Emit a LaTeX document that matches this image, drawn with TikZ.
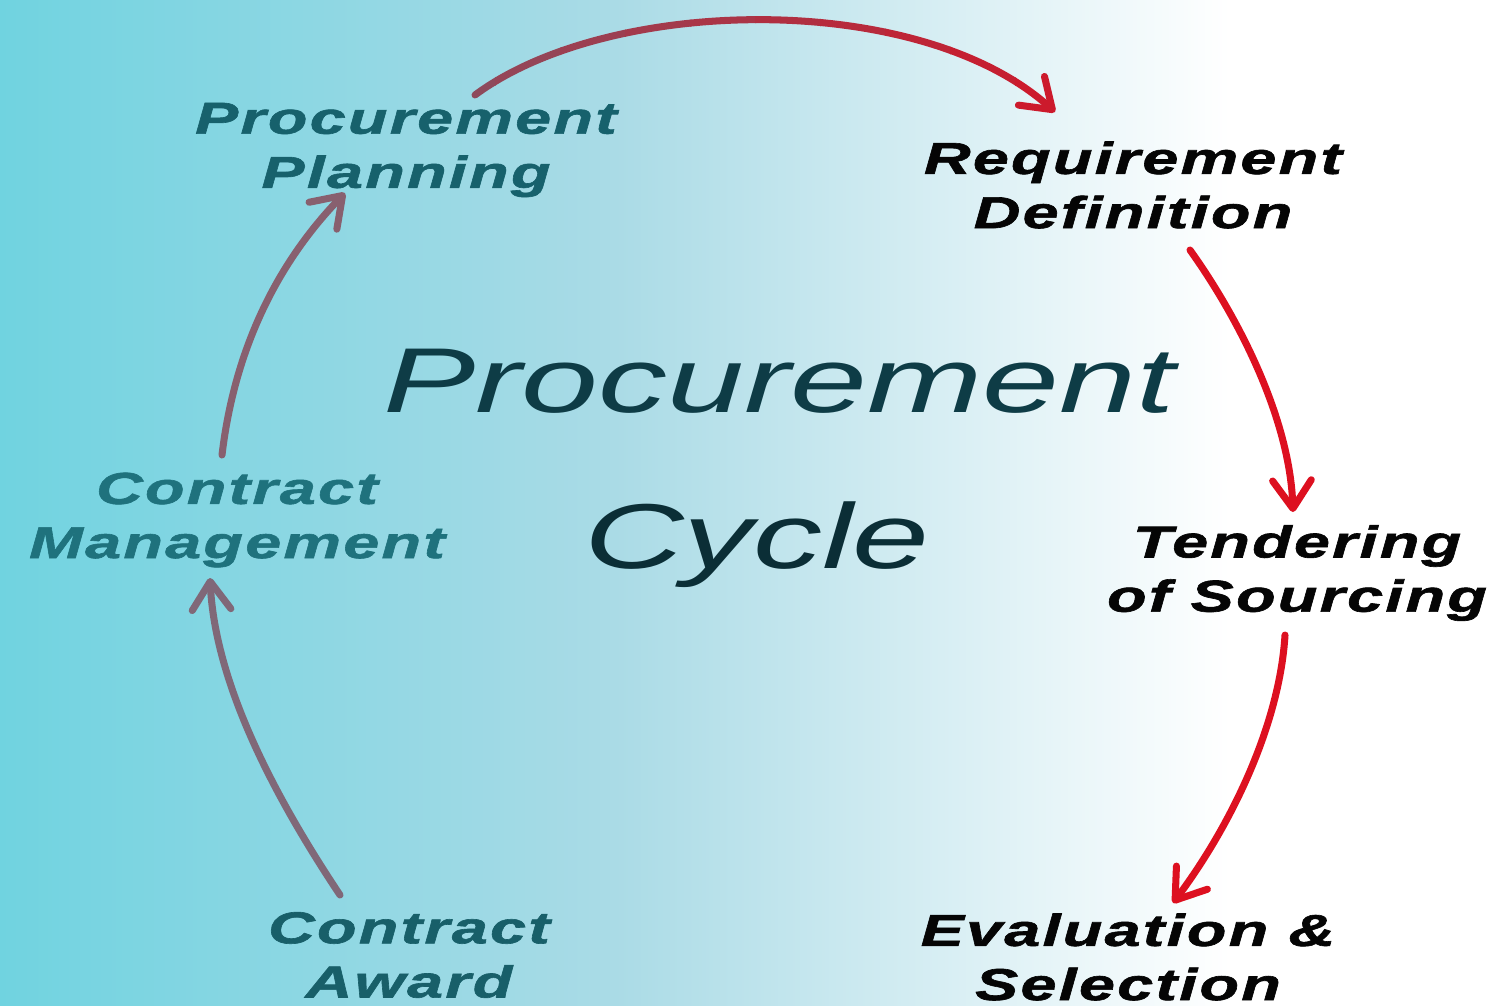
\documentclass[tikz,border=0pt]{standalone}
\usepackage{fontspec}
\usetikzlibrary{arrows.meta}
\newfontfamily\labfont[FakeStretch=1.45,LetterSpace=5,FakeBold=1.4]{Liberation Sans}
\newfontfamily\cenfont[FakeStretch=1.5]{Liberation Sans}
\definecolor{bgA}{HTML}{70D3E0}
\definecolor{bgM}{HTML}{AADBE6}
\definecolor{ppC}{HTML}{17616C}
\definecolor{cmC}{HTML}{1F727D}
\definecolor{caC}{HTML}{185F69}
\definecolor{cpC}{HTML}{0E3C46}
\definecolor{ccC}{HTML}{0B2E36}
\definecolor{labBlack}{HTML}{050505}
\definecolor{arrRed}{HTML}{DD1020}
\definecolor{arrTopR}{HTML}{CC1A2C}
\definecolor{arrTopL}{HTML}{8E4A5C}
\definecolor{arrMauve}{HTML}{806878}
\definecolor{arrMauveB}{HTML}{88606F}
\begin{document}
\begin{tikzpicture}[x=0.01cm,y=-0.01cm,
  lab/.style={font=\labfont\bfseries\itshape\fontsize{12.7}{15.4}\selectfont, align=center, inner sep=0pt},
  cen/.style={font=\cenfont\itshape\fontsize{26.2}{30}\selectfont, inner sep=0pt, anchor=base},
  arr/.style={line width=2pt, line cap=round, -{Straight Barb[length=8pt,width=11pt,round]}}]
\useasboundingbox (0,0) rectangle (1499,1005);
\shade[left color=bgA, right color=white, middle color=bgM] (0,0) rectangle (1230,1005);
\fill[white] (1229,0) rectangle (1499,1005);

% labels
\node[lab, text=ppC] (pp) at (406,150) {Procurement\\Planning};
\node[lab, text=labBlack] (rd) at (1133,185) {Requirement\\Definition};
\node[lab, text=labBlack] (ts) at (1297,573) {Tendering\\of Sourcing};
\node[lab, text=labBlack] (es) at (1128,957) {Evaluation \&\\Selection};
\node[lab, text=caC] (ca) at (409,955) {Contract\\Award};
\node[lab, text=cmC] (cm) at (237,520) {Contract\\Management};
\node[cen, text=cpC] (c1) at (779,412) {Procurement};
\node[cen, text=ccC] (c2) at (757,568) {Cycle};

% arrow end points
\coordinate (a1s) at (475,95);   \coordinate (a1e) at (1055,112);
\coordinate (a2s) at (1190,250); \coordinate (a2e) at (1293,512);
\coordinate (a3s) at (1285,635); \coordinate (a3e) at (1173,903);
\coordinate (a4s) at (340,895);  \coordinate (a4e) at (210,578);
\coordinate (a5s) at (222,455);  \coordinate (a5e) at (345,193);

% top arrow with stepwise colour blend
\foreach \i in {0,...,9}{
  \pgfmathsetmacro{\p}{\i*100/9}
  \pgfmathsetmacro{\xa}{430+\i*65}
  \pgfmathsetmacro{\xb}{430+(\i+1)*65+1}
  \begin{scope}
    \clip (\xa,-60) rectangle (\xb,200);
    \draw[arr, draw=arrTopR!\p!arrTopL] (a1s) .. controls (610,-5) and (920,-10) .. (a1e);
  \end{scope}
}
\draw[arr, draw=arrRed] (a2s) .. controls (1240,320) and (1290,420) .. (a2e);
\draw[arr, draw=arrRed] (a3s) .. controls (1280,720) and (1235,820) .. (a3e);
\draw[arr, draw=arrMauve] (a4s) .. controls (270,790) and (215,680) .. (a4e);
\draw[arr, draw=arrMauveB] (a5s) .. controls (235,345) and (280,260) .. (a5e);
\end{tikzpicture}
\end{document}
